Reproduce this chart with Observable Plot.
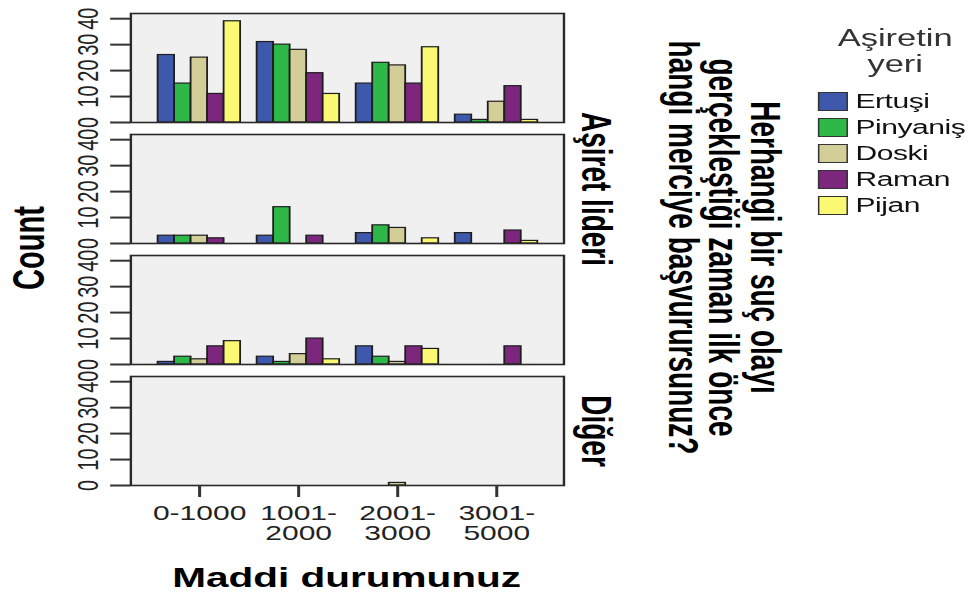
<!DOCTYPE html>
<html><head><meta charset="utf-8">
<script src="https://cdn.jsdelivr.net/npm/d3@7"></script>
<script src="https://cdn.jsdelivr.net/npm/@observablehq/plot@0.6"></script>
<style>
html,body{margin:0;padding:0;background:#fff;overflow:hidden}
#wrap{position:relative;width:649px;height:596px;transform:scaleX(1.50077);transform-origin:0 0;font-family:"Liberation Sans",Arial,sans-serif;color:#111;background:#fff}
#wrap svg{position:absolute;left:0;top:0}
.abs{position:absolute;white-space:nowrap}
</style></head><body><div id="wrap"></div>
<script>
// ---- data ----
const categories = ["0-1000", "1001-2000", "2001-3000", "3001-5000"];
const categoryLabels = ["0-1000", "1001-\n2000", "2001-\n3000", "3001-\n5000"];
const series = ["Ertuşi", "Pinyaniş", "Doski", "Raman", "Pijan"];
const seriesColors = ["#3E58AC", "#2EB848", "#D3CE97", "#7C277D", "#FBF873"];
const rows = ["r1", "r2", "r3", "r4"];
const rowLabels = ["", "Aşiret lideri", "", "Diğer"];
const yTicks = [0, 10, 20, 30, 40];
// values per row: one array per series, one value per category
const row1 = [[26, 31, 15, 3], [15, 30, 23, 1], [25, 28, 22, 8], [11, 19, 15, 14], [39, 11, 29, 1]];
const row2 = [[3, 3, 4, 4], [3, 14, 7, 0], [3, 0, 6, 0], [2, 3, 0, 5], [0, 0, 2, 1]];
const row3 = [[1, 3, 7, 0], [3, 1, 3, 0], [2, 4, 1, 0], [7, 10, 7, 7], [9, 2, 6, 0]];
const row4 = [[0, 0, 0, 0], [0, 0, 0, 0], [0, 0, 1, 0], [0, 0, 0, 0], [0, 0, 0, 0]];
const titleLines = ["Herhangi bir suç olayı", "gerçekleştiği zaman ilk önce", "hangi merciye başvurursunuz?"];
const xTitle = "Maddi durumunuz";
const yTitle = "Count";
const legendTitle = ["Aşiretin", "yeri"];

// ---- build ----
const rowValues = [row1, row2, row3, row4];
const key = (c, s) => c + "|" + s;
const xKeys = [];
categories.forEach((c, ci) => {
  if (ci > 0) xKeys.push("gap" + ci);
  series.forEach(s => xKeys.push(key(c, s)));
});
const centerKeys = categories.map(c => key(c, series[2]));
const labelOf = new Map(categories.map((c, i) => [key(c, series[2]), categoryLabels[i]]));
const data = [];
rows.forEach((r, ri) => series.forEach((s, si) => categories.forEach((c, ci) => {
  const v = rowValues[ri][si][ci];
  if (v > 0) data.push({row: r, series: s, key: key(c, s), value: v});
})));
const rowData = rows.map((r, i) => ({row: r, label: rowLabels[i]}));

const W = 649, H = 596;
const chart = Plot.plot({
  width: W, height: H,
  marginLeft: 86.7, marginRight: W - 375.3, marginTop: 11, marginBottom: 109,
  style: {fontFamily: "Liberation Sans, Arial, sans-serif", background: "transparent", color: "#111"},
  x: {domain: xKeys, paddingInner: 0, paddingOuter: 1.27},
  y: {domain: [0, 42]},
  fy: {domain: rows, padding: 0.098, axis: null},
  color: {domain: series, range: seriesColors},
  marks: [
    Plot.frame({fill: "#f0f0f0"}),
    Plot.barY(data, {x: "key", y: "value", fy: "row", fill: "series", stroke: "#1e1e1e", strokeWidth: 1.2}),
    Plot.frame({stroke: "#2a2a2a", strokeWidth: 1.6}),
    Plot.axisY({ticks: yTicks, tickFormat: d => String(d), tickSize: 13.3, tickPadding: 8.7, tickRotate: -90,
      fontSize: 20, stroke: "#333", strokeWidth: 2, fill: "#222", label: null}),
    Plot.axisX({ticks: centerKeys, tickFormat: k => labelOf.get(k), tickSize: 12, tickPadding: 8,
      fontSize: 20, lineHeight: 1.0, stroke: "#333", strokeWidth: 2, fill: "#222", label: null}),
    Plot.text(rowData, {fy: "row", text: "label", frameAnchor: "right", dx: 12, rotate: 90,
      lineAnchor: "bottom", textAnchor: "middle", fontSize: 28, fontWeight: "bold", fill: "#000"})
  ]
});
const wrap = document.getElementById("wrap");
wrap.appendChild(chart);

function addDiv(html, css) {
  const d = document.createElement("div");
  d.className = "abs";
  d.innerHTML = html;
  Object.assign(d.style, css);
  wrap.appendChild(d);
  return d;
}
// y title
addDiv(yTitle, {left: "-41.3px", top: "231px", width: "120px", height: "34px", lineHeight: "34px",
  textAlign: "center", fontSize: "29px", fontWeight: "bold", transform: "rotate(-90deg)", color: "#000"});
// x title
addDiv(xTitle, {left: "111px", top: "561px", width: "240px", height: "34px", lineHeight: "34px",
  textAlign: "center", fontSize: "27px", fontWeight: "bold", color: "#000"});
// right title
addDiv(titleLines.join("<br>"), {left: (482.3 - 240) + "px", top: (247 - 41.5) + "px", width: "480px", height: "83px",
  lineHeight: "27.65px", textAlign: "center", fontSize: "28px", fontWeight: "bold", transform: "rotate(90deg)", color: "#000"});
// legend
addDiv(legendTitle.join("<br>"), {left: "536.5px", top: "25px", width: "120px", lineHeight: "26px",
  textAlign: "center", fontSize: "23px", color: "#333"});
series.forEach((s, i) => {
  const top = 92 + i * 25.9;
  addDiv("", {left: "545px", top: top + "px", width: "19.5px", height: "19px", boxSizing: "border-box",
    background: seriesColors[i], border: "1.5px solid #333"});
  addDiv(s, {left: "570px", top: top + "px", height: "19px", lineHeight: "19px", fontSize: "20px",
    letterSpacing: "-0.3px", color: "#111"});
});
</script></body></html>
